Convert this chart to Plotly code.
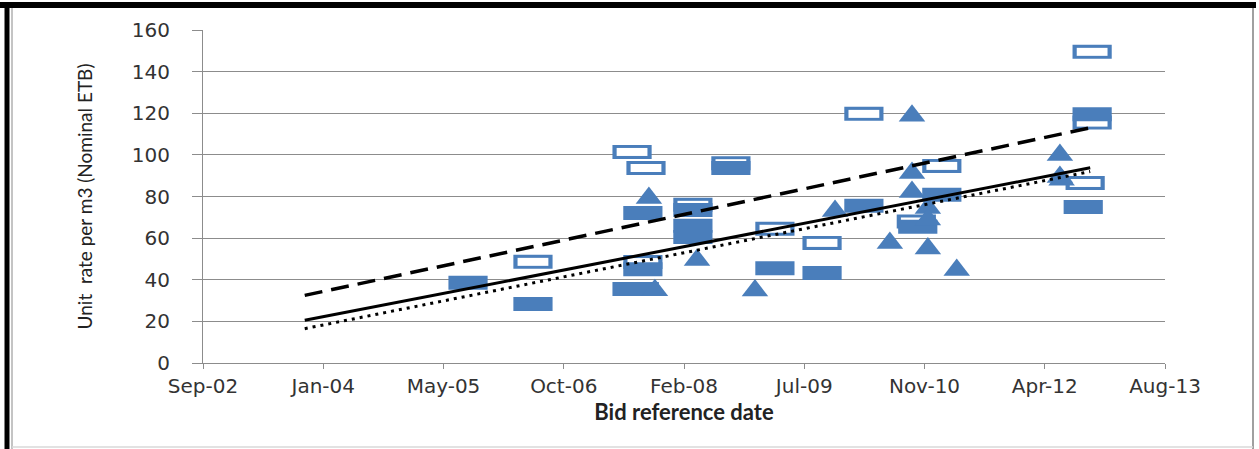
import plotly.graph_objects as go

# ---- axis ticks (Excel date axis, major unit 500 days) ----
tick_dates = ["2002-09-01", "2004-01-14", "2005-05-28", "2006-10-10", "2008-02-22",
              "2009-07-06", "2010-11-18", "2012-04-01", "2013-08-14"]
tick_labels = ["Sep-02", "Jan-04", "May-05", "Oct-06", "Feb-08",
               "Jul-09", "Nov-10", "Apr-12", "Aug-13"]
y_ticks = [0, 20, 40, 60, 80, 100, 120, 140, 160]

# ---- series: filled squares ----
fs_dates = ["2005-09-07", "2006-06-04", "2007-07-21", "2007-08-20", "2007-09-04", "2007-09-04",
            "2008-03-30", "2008-03-30", "2008-03-30", "2008-09-04", "2009-03-06", "2009-09-18",
            "2010-03-11", "2010-10-21", "2011-01-29", "2012-09-08", "2012-10-15"]
fs_vals = [38.5, 28.4, 35.6, 35.6, 45.0, 72.1, 73.5, 66.0, 60.6, 93.7, 45.5, 43.3,
           75.5, 65.5, 80.8, 75.0, 119.5]

# ---- series: open squares ----
os_dates = ["2006-06-04", "2007-07-21", "2007-09-17", "2007-09-04", "2008-03-30", "2008-09-04",
            "2009-03-06", "2009-09-18", "2010-03-11", "2010-10-15", "2011-01-29", "2012-09-16",
            "2012-10-15", "2012-10-15"]
os_vals = [48.6, 101.4, 93.7, 48.5, 76.0, 96.0, 64.5, 57.7, 119.7, 68.0, 94.7, 86.5, 149.5, 115.5]

# ---- series: triangles ----
tr_dates = ["2007-09-29", "2007-10-24", "2008-04-16", "2008-12-13", "2009-11-11", "2010-06-27",
            "2010-09-27", "2010-09-27", "2010-09-27", "2010-12-02", "2010-12-02", "2010-12-02",
            "2011-04-01", "2012-06-03", "2012-06-03", "2012-06-10"]
tr_vals = [79.3, 35.0, 49.5, 34.8, 73.0, 57.7, 118.8, 91.3, 82.2, 74.5, 69.0, 55.0,
           44.7, 100.0, 89.4, 88.0]

# ---- linear trend lines (end points) ----
trend_dates = ["2003-10-29", "2012-10-07"]
trend_filled = [20.5, 93.8]
trend_open = [32.5, 113.0]
trend_tri = [16.5, 92.0]

BLUE = "#4A7EBB"
W, H = 1259, 449
L, R, T, B = 203, 1165, 30, 363


def px2x(px):
    return (px - L) / (R - L)


def py2y(py):
    return (B - py) / (B - T)


fig = go.Figure()

# open squares: blue block, then white interior
fig.add_trace(go.Scatter(x=os_dates, y=os_vals, mode="markers", showlegend=False,
                         marker=dict(symbol="line-ew", size=28, color=BLUE,
                                     line=dict(width=14, color=BLUE))))
fig.add_trace(go.Scatter(x=os_dates, y=os_vals, mode="markers", showlegend=False,
                         marker=dict(symbol="line-ew", size=22, color="white",
                                     line=dict(width=8, color="white"))))
# filled squares
fig.add_trace(go.Scatter(x=fs_dates, y=fs_vals, mode="markers", showlegend=False,
                         marker=dict(symbol="line-ew", size=28, color=BLUE,
                                     line=dict(width=14, color=BLUE))))
# triangles
fig.add_trace(go.Scatter(x=tr_dates, y=tr_vals, mode="markers", showlegend=False,
                         marker=dict(symbol="triangle-up", size=23, color=BLUE, line=dict(width=0))))

# trend lines
fig.add_trace(go.Scatter(x=trend_dates, y=trend_open, mode="lines", showlegend=False,
                         line=dict(color="black", width=3.5, dash="18px,9px")))
fig.add_trace(go.Scatter(x=trend_dates, y=trend_tri, mode="lines", showlegend=False,
                         line=dict(color="black", width=3, dash="3px,5px")))
fig.add_trace(go.Scatter(x=trend_dates, y=trend_filled, mode="lines", showlegend=False,
                         line=dict(color="black", width=3)))

GRID = "#8C8C8C"
fig.update_layout(
    width=W, height=H,
    margin=dict(l=L, r=W - R, t=T, b=H - B),
    paper_bgcolor="white", plot_bgcolor="white",
    xaxis=dict(
        type="date", range=[tick_dates[0], tick_dates[-1]],
        tickmode="array", tickvals=tick_dates, ticktext=tick_labels,
        showgrid=False, showline=True, linecolor=GRID, linewidth=1,
        ticks="outside", ticklen=5, tickcolor=GRID,
        tickfont=dict(family="DejaVu Sans", size=20, color="#333333"),
        title=dict(text="<b>Bid reference date</b>",
                   font=dict(family="Lato", size=22, color="#222222"), standoff=6),
        zeroline=False,
    ),
    yaxis=dict(
        range=[0, 160], tickmode="array", tickvals=y_ticks,
        showgrid=True, gridcolor=GRID, gridwidth=1,
        showline=True, linecolor=GRID, linewidth=1,
        ticks="outside", ticklen=10, tickcolor=GRID, ticklabelstandoff=18,
        tickfont=dict(family="DejaVu Sans", size=20, color="#333333"),
        title=dict(text="Unit  rate per m3 (Nominal ETB)",
                   font=dict(family="Lato", size=19, color="#222222"), standoff=34),
        zeroline=False,
    ),
    shapes=[
        # outer frame
        dict(type="line", xref="paper", yref="paper", x0=px2x(0), x1=px2x(1256),
             y0=py2y(5), y1=py2y(5), line=dict(color="black", width=6)),
        dict(type="line", xref="paper", yref="paper", x0=px2x(7), x1=px2x(7),
             y0=py2y(3), y1=py2y(449), line=dict(color="black", width=5)),
        dict(type="line", xref="paper", yref="paper", x0=px2x(12), x1=px2x(12),
             y0=py2y(8), y1=py2y(449), line=dict(color="#B0B0B0", width=1.5)),
        dict(type="line", xref="paper", yref="paper", x0=px2x(1253), x1=px2x(1253),
             y0=py2y(8), y1=py2y(449), line=dict(color="#A0A0A0", width=2)),
        dict(type="line", xref="paper", yref="paper", x0=px2x(12), x1=px2x(1253),
             y0=py2y(447), y1=py2y(447), line=dict(color="#D8D8D8", width=1.5)),
    ],
)

fig.write_html("out.html", config={"displayModeBar": False},
               post_script="document.body.style.margin='0';")
